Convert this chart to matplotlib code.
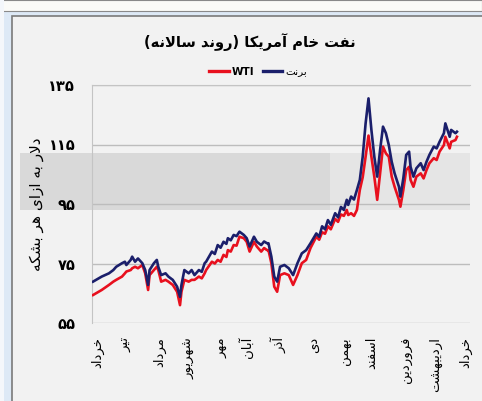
import matplotlib
matplotlib.use("Agg")
import matplotlib.pyplot as plt
from matplotlib.patches import Rectangle
from matplotlib.lines import Line2D
from matplotlib import font_manager, ft2font

# ---- data (trading-day index, $ per barrel) ----
days = [0, 6, 11, 14, 16, 20, 22, 23, 26, 27, 29, 31, 34, 36, 38, 39, 42, 44, 45,
        47, 50, 52, 55, 58, 60, 61, 63, 66, 68, 70, 73, 75, 77, 78, 82,
        84, 86, 88, 90, 92, 93, 95, 97, 99, 101, 104, 106, 108, 111, 113, 116, 118, 120, 121, 123, 125,
        127, 129, 132, 135, 138, 141, 144, 147,
        150, 154, 156, 158, 160, 162, 164, 167, 169, 171, 173, 175, 176, 178, 180,
        182, 184, 186, 188, 190, 192, 194, 196, 198, 200,
        202, 204, 206, 208, 211, 212, 214, 216, 218, 219, 221, 223, 226, 228, 230,
        232, 235, 237, 239, 242, 243, 246, 247, 250, 251]

brent = [68.9, 70.6, 71.7, 72.8, 73.9, 75.1, 75.6, 74.5, 76.2, 77.3, 75.6, 76.7, 75.1, 72.8, 67.8, 72.8, 75.1, 76.2, 73.9,
         71.1, 71.7, 70.6, 69.5, 67.2, 63.8, 67.8, 72.8, 71.7, 72.8, 71.1, 72.8, 72.2, 75.1, 75.6, 79.0,
         78.2, 81.2, 80.3, 82.3, 81.6, 83.5, 82.8, 84.6, 84.2, 85.7, 84.6, 83.5, 80.7, 84.0, 82.3, 81.2, 82.4, 81.8, 81.8, 77.3, 70.6,
         68.9, 73.9, 74.5, 73.4, 71.1, 75.1, 78.4, 79.5,
         81.8, 85.1, 84.0, 87.5, 86.5, 89.6, 88.0, 91.9, 90.5, 94.0, 93.0, 96.4, 94.7, 97.5, 96.5,
         99.7, 103.1, 110.9, 122.1, 130.5, 119.9, 110.9, 104.2, 113.2, 121.0,
         118.8, 114.8, 109.2, 105.3, 100.8, 97.5, 103.6, 111.5, 112.6, 107.5, 104.2, 107.0, 108.7, 106.4, 109.2,
         111.5, 114.3, 113.7, 115.9, 118.8, 122.1, 117.6, 119.9, 118.8, 119.3]

wti = [64.4, 66.1, 67.8, 68.9, 69.5, 70.6, 71.7, 72.3, 72.8, 73.4, 73.9, 73.4, 74.5, 71.7, 66.1, 71.1, 72.8, 73.9, 72.8,
       68.9, 69.5, 68.9, 67.8, 65.5, 61.0, 65.5, 69.5, 68.9, 69.5, 69.5, 70.6, 70.0, 71.7, 72.8, 75.6,
       75.0, 76.2, 75.6, 77.9, 77.2, 79.5, 79.0, 81.2, 81.0, 84.0, 83.5, 82.3, 79.0, 82.3, 80.7, 79.0, 80.2, 79.5, 79.5, 75.1, 67.2,
       65.5, 71.1, 71.7, 71.1, 67.8, 71.1, 75.1, 76.2,
       80.2, 84.0, 83.0, 85.5, 85.0, 87.5, 86.5, 90.0, 89.0, 91.5, 91.0, 93.0, 91.3, 91.9, 91.0,
       93.0, 99.7, 104.0, 110.9, 118.0, 110.9, 104.2, 96.4, 105.3, 114.3,
       112.0, 110.9, 104.2, 100.8, 96.4, 94.1, 99.7, 106.4, 107.5, 103.1, 100.8, 104.2, 105.3, 103.6, 106.4,
       108.7, 110.4, 109.8, 112.6, 114.8, 117.6, 113.7, 115.9, 116.5, 117.6]

month_pos = [3, 23, 46, 66, 89, 106, 128, 152, 174, 192, 216, 236, 257]
month_names = ["خرداد", "تیر", "مرداد", "شهریور", "مهر", "آبان", "آذر", "دی",
               "بهمن", "اسفند", "فروردین", "اردیبهشت", "خرداد"]
y_ticks = [55, 75, 95, 115, 135]
y_labels = ["۵۵", "۷۵", "۹۵", "۱۱۵", "۱۳۵"]

title = "نفت خام آمریکا (روند سالانه)"
ylabel = "دلار به ازای هر بشکه"
brent_name = "برنت"
wti_name = "WTI"

# ---- tiny Persian shaper (matplotlib has no bidi / joining) ----
FORMS = {'ا': (0xFE8D, 2), 'آ': (0xFE81, 2), 'ب': (0xFE8F, 4), 'ت': (0xFE95, 4),
         'خ': (0xFEA5, 4), 'د': (0xFEA9, 2), 'ذ': (0xFEAB, 2), 'ر': (0xFEAD, 2),
         'ز': (0xFEAF, 2), 'س': (0xFEB1, 4), 'ش': (0xFEB5, 4), 'ف': (0xFED1, 4),
         'ل': (0xFEDD, 4), 'م': (0xFEE1, 4), 'ن': (0xFEE5, 4), 'ه': (0xFEE9, 4),
         'و': (0xFEED, 2), 'ی': (0xFBFC, 4), 'ک': (0xFB8E, 4), 'LA': (0xFEFB, 2)}
FALLBACK = {'ی': [0xFEEF, 0xFEF0, 0xFEF3, 0xFEF4], 'ک': [0xFED9, 0xFEDA, 0xFEDB, 0xFEDC]}

font_file = font_manager.findfont("DejaVu Sans")
cmap = ft2font.FT2Font(font_file).get_charmap()


def shape(text):
    letters = []
    i = 0
    while i < len(text):
        if text[i] == 'ل' and i + 1 < len(text) and text[i + 1] == 'ا':
            letters.append('LA')
            i += 2
        else:
            letters.append(text[i])
            i += 1
    out = []
    for k, c in enumerate(letters):
        if c not in FORMS:
            out.append({'(': ')', ')': '('}.get(c, c))
            continue
        base, n = FORMS[c]
        prev = letters[k - 1] if k > 0 else None
        nxt = letters[k + 1] if k + 1 < len(letters) else None
        jp = prev in FORMS and FORMS[prev][1] == 4
        jn = n == 4 and nxt in FORMS
        form = 3 if (jp and jn) else 1 if jp else 2 if jn else 0
        code = base + form
        if code not in cmap and c in FALLBACK:
            code = FALLBACK[c][form]
        out.append(chr(code))
    return "".join(reversed(out))


plt.rcParams['font.family'] = ['DejaVu Sans']

W, H = 482, 401
fig = plt.figure(figsize=(W / 100, H / 100), dpi=100)
fig.patch.set_facecolor('#dde9f6')


def frect(x0, y0, x1, y1, **kw):
    fig.patches.append(Rectangle((x0 / W, 1 - y1 / H), (x1 - x0) / W, (y1 - y0) / H,
                                 transform=fig.transFigure, figure=fig, zorder=-10, **kw))


# frame pieces around the chart
frect(0, 0, 482, 11, facecolor='#fbfbf8', edgecolor='#8a8a8a', lw=0.8)
frect(0, 0, 4, 401, facecolor='#f4f7fb', edgecolor='none')
frect(12, 16, 490, 410, facecolor='#f2f2f2', edgecolor='#7a7a7a', lw=1.2)
# faded watermark band
frect(20, 153, 330, 210, facecolor='#d7d7d7', edgecolor='none', alpha=0.9)
frect(330, 153, 470, 210, facecolor='#e4e4e4', edgecolor='none', alpha=0.9)

ax = fig.add_axes([92 / W, 1 - 323 / H, (470 - 92) / W, (323 - 85) / H])
ax.set_facecolor('none')

ax.plot(days, wti, color='#e8101e', lw=1.9, zorder=3)
ax.plot(days, brent, color='#1b1f6b', lw=1.9, zorder=4)

ax.set_xlim(-0.7, 260)
ax.set_ylim(55, 135)
ax.set_yticks(y_ticks)
ax.set_yticklabels(y_labels, fontsize=10.5, fontweight='bold')
ax.set_xticks(month_pos)
ax.set_xticklabels([shape(m) for m in month_names], rotation=90, fontsize=9.5,
                   va='top', ha='center')
ax.tick_params(axis='both', length=0)
ax.tick_params(axis='y', pad=12)
ax.tick_params(axis='x', pad=10)
ax.grid(axis='y', color='#bdbdbd', lw=1)
ax.set_axisbelow(True)
for side in ['left', 'top', 'right', 'bottom']:
    ax.spines[side].set_color('#c4c4c4')
ax.spines['bottom'].set_visible(False)
ax.spines['right'].set_visible(False)

ax.set_ylabel(shape(ylabel), fontsize=11, labelpad=3)

fig.text(250 / W, 1 - 42 / H, shape(title), fontsize=10.5, fontweight='bold',
         ha='center', va='center')

handles = [Line2D([], [], color='#e8101e', lw=2.4), Line2D([], [], color='#1b1f6b', lw=2.4)]
leg = fig.legend(handles, [wti_name, shape(brent_name)], ncol=2, loc='center',
                 bbox_to_anchor=(258 / W, 1 - 72 / H), frameon=False, fontsize=7.5,
                 handlelength=1.9, handletextpad=0.3, columnspacing=0.8)
leg.get_texts()[0].set_fontweight('bold')

fig.savefig("out.png", dpi=100)
